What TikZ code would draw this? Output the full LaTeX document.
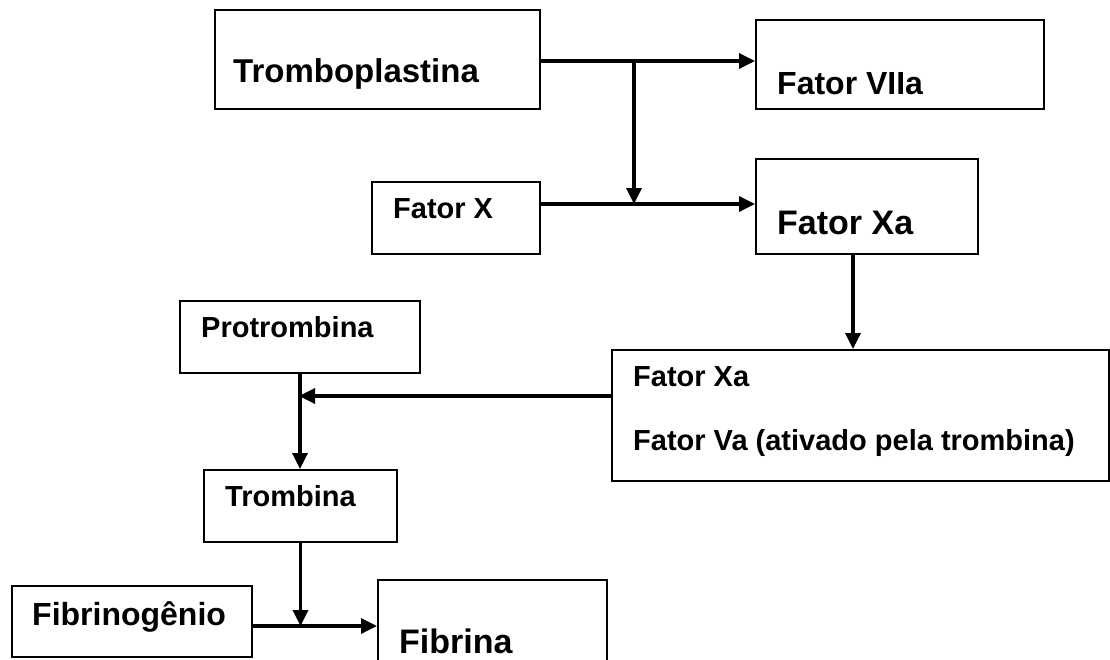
\documentclass[tikz,border=0pt]{standalone}
\usepackage{fontspec}
\setmainfont{Liberation Sans}
\usepackage{tikz}
\newcommand*{\fsz}[1]{\fontsize{#1}{#1}\selectfont\bfseries}
\usetikzlibrary{arrows.meta}

\begin{document}
\begin{tikzpicture}[x=1pt,y=-1pt,
  box/.style={draw,line width=2pt,inner sep=0pt,anchor=north west},
  lbl/.style={inner sep=0pt,anchor=base west},
  conn/.style={line width=3.4pt,arrows={-Triangle[length=16pt,width=15pt]}}]
\clip(0,0)rectangle(1110,659);
%boxes
\node[box,minimum width=325pt,minimum height=99pt](tpl)at(214,9){};
\node[box,minimum width=288pt,minimum height=89pt](f7a)at(755,19){};
\node[box,minimum width=168pt,minimum height=72pt](fx)at(371,181){};
\node[box,minimum width=222pt,minimum height=95pt](fxa)at(755,158){};
\node[box,minimum width=240pt,minimum height=72pt](ptb)at(179,300){};
\node[box,minimum width=497pt,minimum height=131pt](xva)at(611,349){};
\node[box,minimum width=193pt,minimum height=72pt](trb)at(203,469){};
\node[box,minimum width=240pt,minimum height=71pt](fbg)at(11,585){};
\node[box,minimum width=229pt,minimum height=121pt](fbr)at(377,579){};
%texts
\node[lbl]at([xshift=19pt,yshift=-73pt]tpl.north west){\fsz{33}Tromboplastina};
\node[lbl]at([xshift=22pt,yshift=-75pt]f7a.north west){\fsz{32}Fator VIIa};
\node[lbl]at([xshift=22pt,yshift=-37pt]fx.north west){\fsz{29}Fator X};
\node[lbl]at([xshift=22pt,yshift=-76pt]fxa.north west){\fsz{34}Fator Xa};
\node[lbl]at([xshift=22pt,yshift=-37pt]ptb.north west){\fsz{29}Protrombina};
\node[lbl]at([xshift=22pt,yshift=-37pt]xva.north west){\fsz{29}Fator Xa};
\node[lbl]at([xshift=22pt,yshift=-101pt]xva.north west){\fsz{29}Fator Va (ativado pela trombina)};
\node[lbl]at([xshift=22pt,yshift=-37pt]trb.north west){\fsz{29}Trombina};
\node[lbl]at([xshift=21pt,yshift=-40pt]fbg.north west){\fsz{32}Fibrinogênio};
\node[lbl]at([xshift=22pt,yshift=-74pt]fbr.north west){\fsz{34}Fibrina};
%junctions
\coordinate(j1)at(634,61);
\coordinate(j2)at(634,204);
\coordinate(j4)at(299,396);
\coordinate(j5)at(299,626);
%arrows
\draw[conn](tpl.east|-j1)--(j1-|f7a.west);
\draw[conn](j1)--(j2);
\draw[conn](fx.east|-j2)--(j2-|fxa.west);
\draw[conn]([xshift=-14pt]fxa.south)--([xshift=-14pt]fxa.south|-xva.north);
\draw[conn](xva.west|-j4)--(j4);
\draw[conn](ptb.south)--(ptb.south|-trb.north);
\draw[conn](trb.south)--(trb.south|-j5);
\draw[conn](fbg.east|-j5)--(j5-|fbr.west);
\end{tikzpicture}
\end{document}
